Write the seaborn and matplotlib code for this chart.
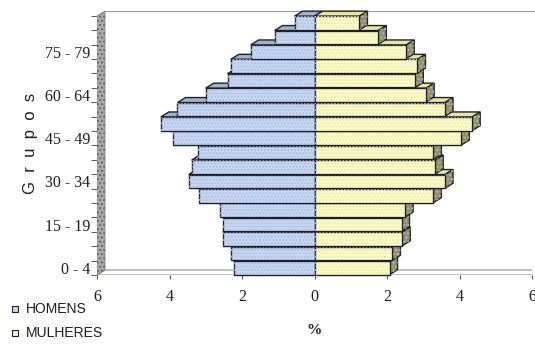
import numpy as np
import pandas as pd
import seaborn as sns
import matplotlib.pyplot as plt
from matplotlib.patches import Polygon, Rectangle
from matplotlib.ticker import FixedLocator

# Population by age group (% of total), bottom group first
grupos = ["0 - 4", "5 - 9", "10 - 14", "15 - 19", "20 - 24", "25 - 29",
          "30 - 34", "35 - 39", "40 - 44", "45 - 49", "50 - 54", "55 - 59",
          "60 - 64", "65 - 69", "70 - 74", "75 - 79", "80 - 84", "85 +"]
homens = [2.23, 2.31, 2.53, 2.53, 2.62, 3.20, 3.47, 3.39, 3.22, 3.91,
          4.24, 3.78, 3.00, 2.40, 2.31, 1.76, 1.10, 0.55]
mulheres = [2.07, 2.15, 2.42, 2.40, 2.50, 3.28, 3.60, 3.33, 3.28, 4.05,
            4.35, 3.60, 3.08, 2.78, 2.84, 2.53, 1.76, 1.24]
grupos_rotulados = ["0 - 4", "15 - 19", "30 - 34", "45 - 49", "60 - 64", "75 - 79"]
x_ticks = [-6, -4, -2, 0, 2, 4, 6]
sexos = ["HOMENS", "MULHERES"]

sns.set_style("white")
plt.rcParams["font.family"] = ["Liberation Serif", "DejaVu Serif"]

df = pd.DataFrame({
    "grupo": grupos * 2,
    "sexo": [sexos[0]] * len(grupos) + [sexos[1]] * len(grupos),
    "valor": [-v for v in homens] + mulheres,
})
ordem = grupos[::-1]          # oldest group at the top
n = len(ordem)

EDGE = "#1e1e2a"
LW = 1.0
frente = {"HOMENS": "#c8d8f4", "MULHERES": "#fcfcc9"}
topo = {"HOMENS": "#a2b3cb", "MULHERES": "#e7e5a6"}
trama = {"HOMENS": "#adc0e4", "MULHERES": "#ebeab0"}
LADO = "#8f8e74"

W, H = 535, 344
fig = plt.figure(figsize=(W / 100, H / 100), dpi=100)
ax = fig.add_axes([97 / W, 69 / H, 435 / W, 265 / H])

sns.barplot(data=df, y="grupo", x="valor", hue="sexo", order=ordem,
            hue_order=sexos, palette=frente, dodge=False, width=0.95,
            saturation=1, edgecolor=EDGE, linewidth=LW, legend=False, ax=ax)

ax.set_xlim(-6, 6)
y_span = 265 / 14.4
ax.set_ylim(n - 0.5, n - 0.5 - y_span)

# depth of the 3-D look, in data units (8 px right, 5 px up)
dx = 8 / (ax.bbox.width / 12)
dy = 5 / (ax.bbox.height / y_span)

# floor and left wall
y_floor = n - 0.5
ax.add_patch(Polygon([(-6, y_floor), (6, y_floor), (6 + dx, y_floor - dy),
                      (-6 + dx, y_floor - dy)], closed=True, fc="white",
                     ec="#8e8e9c", lw=0.8, zorder=1))
y_top_back = n - 0.5 - y_span + 0.07
parede = [(-6, y_floor), (-6, y_top_back + dy), (-6 + dx, y_top_back),
          (-6 + dx, y_floor - dy)]
ax.add_patch(Polygon(parede, closed=True, fc="#ababab", ec="#7e7e7e",
                     lw=0.6, zorder=2))
ax.add_patch(Polygon(parede, closed=True, fill=False, hatch="....",
                     ec="#666666", lw=0, zorder=2.1))
ax.plot([-6 + dx, 6 + dx], [y_top_back, y_top_back], color="#9a9aaa",
        lw=0.8, zorder=1, clip_on=False)

# bars: front faces from seaborn, plus top and end faces
for sexo, cont in zip(sexos, ax.containers):
    for p in cont.patches:
        x0, w = p.get_x(), p.get_width()
        xl, xr = min(x0, x0 + w), max(x0, x0 + w)
        yt = p.get_y()
        yb = yt + p.get_height()
        pos = (yt + yb) / 2
        z = 10 + (n - pos) * 3 + (0.5 if sexo == "MULHERES" else 0)
        p.set_zorder(z + 1)
        p.set_clip_on(False)
        ax.add_patch(Rectangle((x0, yt), w, yb - yt, fill=False, hatch=".....",
                               ec=trama[sexo], lw=0, zorder=z + 1.1, clip_on=False))
        pts_top = [(xl, yt), (xr, yt), (xr + dx, yt - dy), (xl + dx, yt - dy)]
        ax.add_patch(Polygon(pts_top, closed=True, fc=topo[sexo], ec=EDGE,
                             lw=LW, zorder=z, clip_on=False))
        if sexo == "MULHERES":
            pts_side = [(xr, yt), (xr, yb), (xr + dx, yb - dy), (xr + dx, yt - dy)]
            ax.add_patch(Polygon(pts_side, closed=True, fc=LADO, ec=EDGE,
                                 lw=LW, zorder=z + 0.2, clip_on=False))
            ax.add_patch(Polygon(pts_side, closed=True, fill=False, hatch="....",
                                 ec="#bab995", lw=0, zorder=z + 0.3, clip_on=False))

# axes decoration
for s in ax.spines.values():
    s.set_visible(False)
ax.set_xlabel("")
ax.set_ylabel("")
ax.set_xticks(x_ticks)
ax.set_xticklabels([str(abs(t)) for t in x_ticks])
ax.set_yticks([ordem.index(g) for g in grupos_rotulados])
ax.set_yticklabels(grupos_rotulados)
ax.yaxis.set_minor_locator(FixedLocator(np.arange(-0.5, n + 0.5, 1.0)))
ax.tick_params(axis="x", which="major", bottom=True, length=3, width=0.8,
               color="#555555", pad=7, labelsize=11.5, labelcolor="#1c1c24")
ax.tick_params(axis="y", which="major", left=True, length=0, pad=5,
               labelsize=11.5, labelcolor="#1c1c24")
ax.tick_params(axis="y", which="minor", left=True, length=4, width=0.7,
               color="#555555")

fig.text(31 / W, 1 - 143 / H, "G  r  u  p  o  s", rotation=90, ha="center",
         va="center", family=["Liberation Sans", "DejaVu Sans"], fontsize=12,
         color="#1c1c24")
fig.text(314 / W, 1 - 330 / H, "%", ha="center", va="center",
         fontweight="bold", fontsize=11, color="#1c1c24")

# legend
for k, sexo in enumerate(sexos):
    yc = 309 + 24 * k
    fig.add_artist(Rectangle((12 / W, 1 - (yc + 3) / H), 6 / W, 6 / H,
                             transform=fig.transFigure, fc=frente[sexo],
                             ec=EDGE, lw=0.8))
    fig.text(26 / W, 1 - yc / H, sexo, ha="left", va="center",
             family=["Liberation Sans", "DejaVu Sans"], fontsize=10,
             color="#1c1c24")

fig.savefig("out.png", dpi=100)
